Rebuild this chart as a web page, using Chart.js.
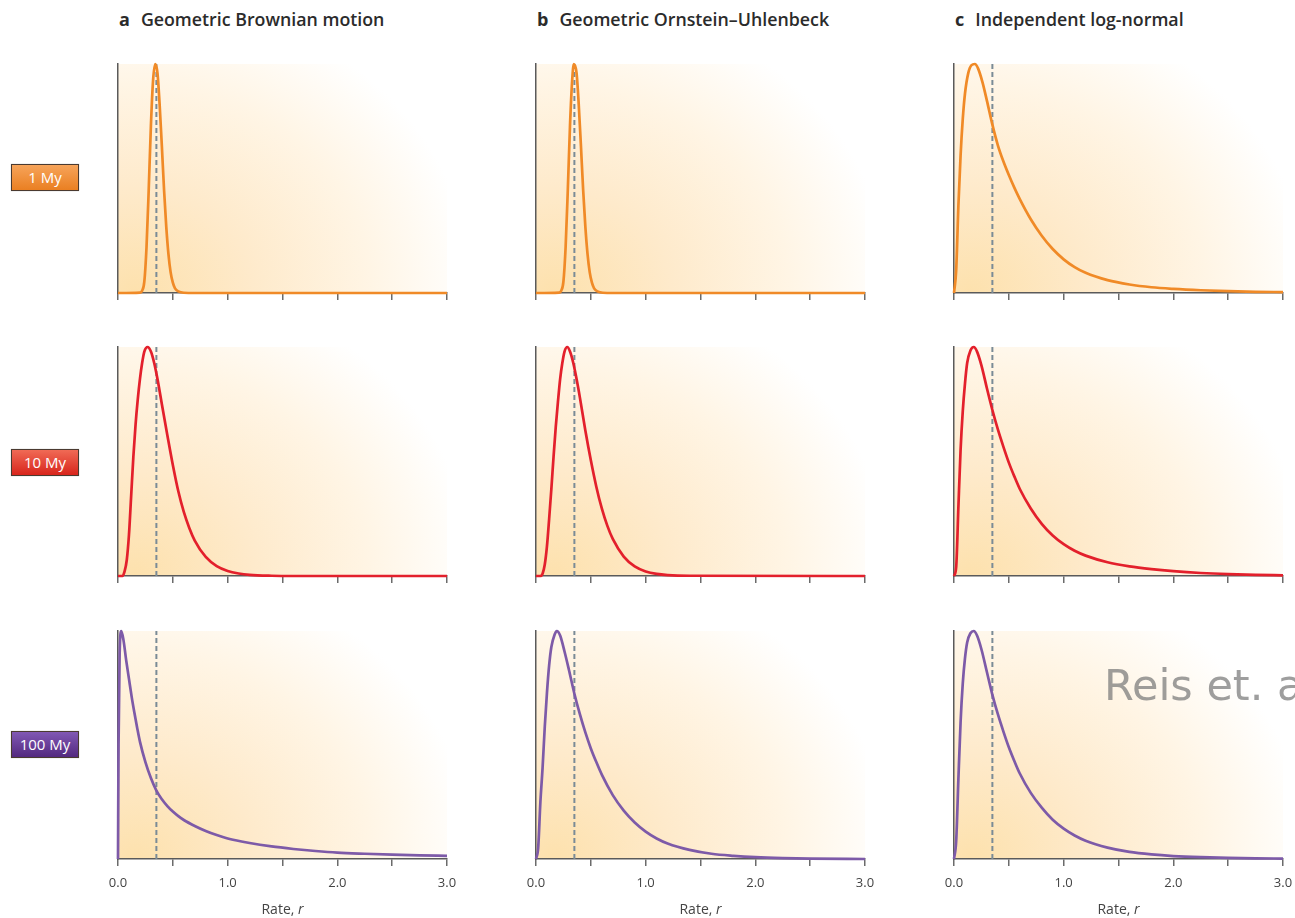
<!DOCTYPE html>
<html>
<head>
<meta charset="utf-8">
<script src="https://cdn.jsdelivr.net/npm/chart.js@4"></script>
<style>
  html, body { margin:0; padding:0; background:#ffffff; width:1295px; height:918px; overflow:hidden; }
  body { position:relative; font-family:"Open Sans", "Noto Sans", sans-serif; }
  canvas { position:absolute; }
  .ptitle { position:absolute; top:7px; font-size:17.8px; font-weight:600; color:#2b2b2b; white-space:nowrap; }
  .ptitle b { font-weight:700; margin-right:11px; font-size:18px; }
  .rowlab { position:absolute; left:11px; width:66px; height:25px; line-height:25px; text-align:center;
            color:#fff; font-size:15px; border:1px solid #4a3a30; box-shadow:0 0 1px rgba(0,0,0,0.3); }
  .wm { position:absolute; left:1104px; top:660px; font-family:"DejaVu Sans", sans-serif; font-size:43px;
        color:rgba(120,120,120,0.72); white-space:nowrap; }
</style>
</head>
<body>
<script>
// ---------------- DATA ----------------
const panelTitles = [["a", "Geometric Brownian motion"], ["b", "Geometric Ornstein\u2013Uhlenbeck"], ["c", "Independent log-normal"]];
const rowLabels = ["1 My", "10 My", "100 My"];
const tickLabels = ["0.0", "", "1.0", "", "2.0", "", "3.0"];
const axisTitle = "Rate, ";
const axisTitleItalic = "r";
const meanRate = 0.35;

// a: Geometric Brownian motion
const a1_r = [0, 0.20, 0.22, 0.24, 0.26, 0.28, 0.30, 0.32, 0.34, 0.36, 0.38, 0.40, 0.42, 0.44, 0.46, 0.48, 0.50, 0.52, 0.55, 0.60, 0.70, 3.0];
const a1_d = [0, 0.002, 0.01, 0.05, 0.2, 0.45, 0.73, 0.93, 1.0, 0.96, 0.82, 0.64, 0.45, 0.29, 0.17, 0.09, 0.045, 0.02, 0.007, 0.001, 0, 0];
const a2_r = [0, 0.04, 0.06, 0.08, 0.10, 0.12, 0.14, 0.16, 0.18, 0.20, 0.22, 0.24, 0.27, 0.30, 0.33, 0.36, 0.40, 0.45, 0.50, 0.55, 0.60, 0.65, 0.70, 0.80, 0.90, 1.0, 1.1, 1.2, 1.4, 1.6, 3.0];
const a2_d = [0, 0, 0.02, 0.07, 0.18, 0.35, 0.52, 0.66, 0.77, 0.86, 0.93, 0.98, 1.0, 0.98, 0.93, 0.86, 0.75, 0.615, 0.485, 0.37, 0.28, 0.21, 0.155, 0.083, 0.043, 0.022, 0.011, 0.005, 0.001, 0, 0];
const a3_r = [0, 0.005, 0.015, 0.03, 0.05, 0.075, 0.10, 0.125, 0.15, 0.175, 0.20, 0.25, 0.30, 0.35, 0.40, 0.45, 0.50, 0.55, 0.60, 0.70, 0.80, 0.90, 1.0, 1.2, 1.4, 1.6, 1.8, 2.0, 2.25, 2.5, 2.75, 3.0];
const a3_d = [0, 0.5, 0.9, 1.0, 0.96, 0.87, 0.79, 0.71, 0.64, 0.575, 0.515, 0.425, 0.355, 0.30, 0.262, 0.232, 0.208, 0.188, 0.171, 0.145, 0.123, 0.105, 0.09, 0.07, 0.055, 0.044, 0.035, 0.028, 0.023, 0.019, 0.016, 0.014];

// b: Geometric Ornstein–Uhlenbeck
const b1_r = [0, 0.21, 0.23, 0.25, 0.27, 0.29, 0.31, 0.33, 0.345, 0.37, 0.39, 0.41, 0.43, 0.45, 0.47, 0.49, 0.51, 0.53, 0.56, 0.61, 0.70, 3.0];
const b1_d = [0, 0.002, 0.01, 0.05, 0.2, 0.45, 0.73, 0.93, 1.0, 0.96, 0.82, 0.64, 0.45, 0.29, 0.17, 0.09, 0.045, 0.02, 0.007, 0.001, 0, 0];
const b2_r = [0, 0.04, 0.06, 0.08, 0.10, 0.12, 0.14, 0.16, 0.18, 0.20, 0.22, 0.24, 0.26, 0.285, 0.31, 0.34, 0.37, 0.40, 0.45, 0.50, 0.55, 0.60, 0.65, 0.70, 0.80, 0.90, 1.0, 1.1, 1.2, 1.4, 3.0];
const b2_d = [0, 0, 0.01, 0.05, 0.13, 0.25, 0.38, 0.52, 0.65, 0.76, 0.86, 0.93, 0.98, 1.0, 0.98, 0.93, 0.86, 0.78, 0.635, 0.505, 0.39, 0.295, 0.22, 0.162, 0.085, 0.042, 0.02, 0.009, 0.004, 0.001, 0];
const b3_r = [0, 0.02, 0.04, 0.06, 0.08, 0.10, 0.12, 0.14, 0.17, 0.19, 0.22, 0.26, 0.30, 0.35, 0.40, 0.45, 0.50, 0.55, 0.60, 0.70, 0.80, 0.90, 1.0, 1.1, 1.2, 1.4, 1.6, 1.8, 2.0, 2.25, 2.5, 3.0];
const b3_d = [0, 0.05, 0.25, 0.40, 0.58, 0.73, 0.85, 0.93, 0.985, 1.0, 0.98, 0.91, 0.83, 0.725, 0.635, 0.555, 0.485, 0.425, 0.37, 0.28, 0.212, 0.16, 0.12, 0.09, 0.068, 0.04, 0.023, 0.014, 0.008, 0.004, 0.002, 0];

// c: Independent log-normal
const c1_r = [0, 0.02, 0.04, 0.06, 0.08, 0.10, 0.13, 0.16, 0.19, 0.22, 0.26, 0.30, 0.35, 0.40, 0.45, 0.50, 0.55, 0.60, 0.70, 0.80, 0.90, 1.0, 1.1, 1.2, 1.4, 1.6, 1.8, 2.0, 2.25, 2.5, 2.75, 3.0];
const c1_d = [0, 0.1, 0.38, 0.6, 0.76, 0.87, 0.96, 0.995, 1.0, 0.98, 0.92, 0.84, 0.735, 0.645, 0.575, 0.515, 0.46, 0.41, 0.322, 0.25, 0.192, 0.147, 0.113, 0.088, 0.056, 0.037, 0.025, 0.018, 0.012, 0.008, 0.005, 0.004];
const c2_r = [0, 0.02, 0.04, 0.06, 0.08, 0.10, 0.12, 0.15, 0.18, 0.21, 0.25, 0.30, 0.35, 0.40, 0.45, 0.50, 0.55, 0.60, 0.70, 0.80, 0.90, 1.0, 1.1, 1.2, 1.4, 1.6, 1.8, 2.0, 2.25, 2.5, 2.75, 3.0];
const c2_d = [0, 0.04, 0.3, 0.55, 0.72, 0.84, 0.93, 0.985, 1.0, 0.98, 0.92, 0.82, 0.725, 0.64, 0.565, 0.495, 0.435, 0.38, 0.295, 0.228, 0.177, 0.139, 0.11, 0.089, 0.06, 0.042, 0.03, 0.021, 0.013, 0.008, 0.005, 0.003];
const c3_r = [0, 0.02, 0.04, 0.06, 0.08, 0.10, 0.12, 0.15, 0.18, 0.21, 0.25, 0.30, 0.35, 0.40, 0.45, 0.50, 0.55, 0.60, 0.70, 0.80, 0.90, 1.0, 1.1, 1.2, 1.4, 1.6, 1.8, 2.0, 2.25, 2.5, 2.75, 3.0];
const c3_d = [0, 0.08, 0.35, 0.6, 0.77, 0.88, 0.95, 0.99, 1.0, 0.98, 0.92, 0.82, 0.72, 0.635, 0.56, 0.49, 0.43, 0.375, 0.29, 0.225, 0.172, 0.133, 0.103, 0.08, 0.05, 0.031, 0.02, 0.013, 0.008, 0.005, 0.003, 0.002];

const rowColors = ["#f08a27", "#e3202c", "#7d5aa8"];
const rowBoxFill = [
  "linear-gradient(#f6a45a, #ea7f22)",
  "linear-gradient(#f06a55, #d8251c)",
  "linear-gradient(#8158b4, #53297f)"
];

// ---------------- LAYOUT ----------------
const colLeft = [118, 536, 954];
const plotW = 329;
const rowTop = [64, 347, 631];
const rowBottom = [293, 576, 859];
const labelTop = [164, 449, 731];

const panels = [
  [[a1_r, a1_d], [b1_r, b1_d], [c1_r, c1_d]],
  [[a2_r, a2_d], [b2_r, b2_d], [c2_r, c2_d]],
  [[a3_r, a3_d], [b3_r, b3_d], [c3_r, c3_d]]
];

panelTitles.forEach((t, i) => {
  const d = document.createElement('div');
  d.className = 'ptitle';
  d.style.left = (colLeft[i] + 1) + 'px';
  d.innerHTML = '<b>' + t[0] + '</b>' + t[1];
  document.body.appendChild(d);
});
rowLabels.forEach((t, i) => {
  const d = document.createElement('div');
  d.className = 'rowlab';
  d.style.top = labelTop[i] + 'px';
  d.style.background = rowBoxFill[i];
  d.textContent = t;
  document.body.appendChild(d);
});

const bgPlugin = {
  id: 'bgGrad',
  beforeDraw(chart) {
    const {ctx, chartArea: a} = chart;
    const w = a.right - a.left, h = a.bottom - a.top;
    const rx = w * 1.03, ry = h * 1.3;
    ctx.save();
    ctx.beginPath();
    ctx.rect(a.left, a.top, w, h);
    ctx.clip();
    ctx.translate(a.left + w * 0.05, a.bottom);
    ctx.scale(1, ry / rx);
    const g = ctx.createRadialGradient(0, 0, 0, 0, 0, rx);
    g.addColorStop(0, '#fde1ad');
    g.addColorStop(0.35, '#feeacb');
    g.addColorStop(0.7, '#fff5e5');
    g.addColorStop(1, '#ffffff');
    ctx.fillStyle = g;
    ctx.fillRect(-w, -rx * 2, w * 3, rx * 3);
    ctx.restore();
  }
};

const axisTitlePlugin = {
  id: 'rateTitle',
  afterDraw(chart, args, opts) {
    if (!opts.show) return;
    const {ctx, chartArea: a} = chart;
    ctx.save();
    ctx.fillStyle = '#444';
    ctx.textBaseline = 'middle';
    ctx.font = '14px "Open Sans", sans-serif';
    const w1 = ctx.measureText(axisTitle).width;
    ctx.font = 'italic 14px "Open Sans", sans-serif';
    const w2 = ctx.measureText(axisTitleItalic).width;
    const x0 = (a.left + a.right) / 2 - (w1 + w2) / 2;
    const y = a.bottom + 51;
    ctx.font = '14px "Open Sans", sans-serif';
    ctx.fillText(axisTitle, x0, y);
    ctx.font = 'italic 14px "Open Sans", sans-serif';
    ctx.fillText(axisTitleItalic, x0 + w1, y);
    ctx.restore();
  }
};

const PADL = 20, PADR = 20, PADT = 10, AXH = 60;

for (let r = 0; r < 3; r++) {
  for (let c = 0; c < 3; c++) {
    const [xs, ys] = panels[r][c];
    const cv = document.createElement('canvas');
    const W = plotW + PADL + PADR;
    const H = (rowBottom[r] - rowTop[r]) + PADT + AXH;
    cv.width = W; cv.height = H;
    cv.style.width = W + 'px'; cv.style.height = H + 'px';
    cv.style.left = (colLeft[c] - PADL) + 'px';
    cv.style.top = (rowTop[r] - PADT) + 'px';
    document.body.appendChild(cv);
    const showLabels = (r === 2);
    new Chart(cv, {
      type: 'line',
      data: {
        datasets: [
          {
            data: xs.map((x, i) => ({x: x, y: ys[i]})),
            borderColor: rowColors[r],
            borderWidth: 2.7,
            pointRadius: 0,
            cubicInterpolationMode: 'monotone',
            fill: false,
            clip: false
          },
          {
            data: [{x: meanRate, y: 0}, {x: meanRate, y: 1}],
            borderColor: '#7a8b96',
            borderWidth: 2,
            borderDash: [5, 3],
            pointRadius: 0,
            fill: false,
            clip: false
          }
        ]
      },
      options: {
        responsive: false,
        animation: false,
        devicePixelRatio: 1,
        layout: { padding: { left: PADL, right: PADR, top: PADT, bottom: 0 } },
        plugins: {
          legend: { display: false },
          tooltip: { enabled: false },
          rateTitle: { show: showLabels }
        },
        scales: {
          x: {
            type: 'linear',
            min: 0, max: 3,
            afterFit: s => { s.height = AXH; },
            afterBuildTicks: s => { s.ticks = tickLabels.map((t, i) => ({value: i * 0.5})); },
            ticks: {
              display: showLabels,
              autoSkip: false,
              maxRotation: 0,
              padding: 9,
              color: '#444',
              font: { family: '"Open Sans", sans-serif', size: 13 },
              callback: (v, i) => tickLabels[i]
            },
            grid: { display: true, drawOnChartArea: false, drawTicks: true, tickLength: 7, color: '#6b6b6b', lineWidth: 1.5 },
            border: { display: true, color: '#5a5a5a', width: 1.5 }
          },
          y: {
            type: 'linear',
            min: 0, max: 1,
            afterFit: s => { s.width = 0; },
            ticks: { display: false },
            grid: { display: false },
            border: { display: true, color: '#5a5a5a', width: 1.5 }
          }
        }
      },
      plugins: [bgPlugin, axisTitlePlugin]
    });
  }
}

const wm = document.createElement('div');
wm.className = 'wm';
wm.textContent = 'Reis et. al.';
document.body.appendChild(wm);
</script>
</body>
</html>
